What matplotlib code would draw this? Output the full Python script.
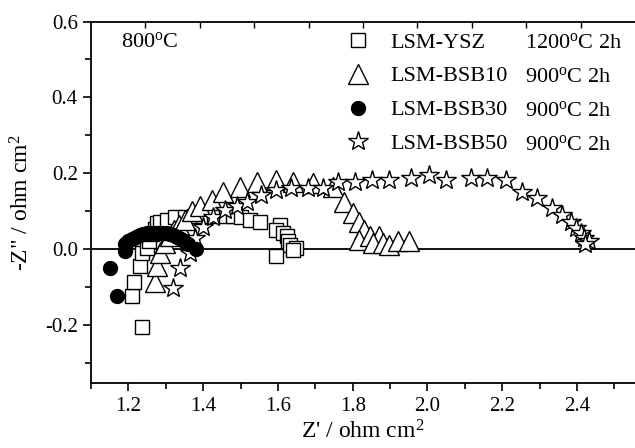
import numpy as np
import matplotlib
matplotlib.use('Agg')
import matplotlib.pyplot as plt

plt.rcParams['font.family'] = ['Liberation Serif', 'DejaVu Serif']
plt.rcParams['mathtext.fontset'] = 'custom'
plt.rcParams['mathtext.rm'] = 'Liberation Serif'
plt.rcParams['mathtext.it'] = 'Liberation Serif:italic'

# LSM-YSZ 1200C 2h (open squares)
ysz_x = [1.236, 1.209, 1.214, 1.231, 1.236, 1.249, 1.255, 1.262, 1.270, 1.276, 1.285, 1.302,
         1.325, 1.351, 1.375, 1.40, 1.43, 1.46, 1.48, 1.502, 1.525, 1.551, 1.605, 1.596,
         1.614, 1.623, 1.627, 1.632, 1.649, 1.64, 1.596]
ysz_y = [-0.205, -0.122, -0.085, -0.045, -0.01, 0.003, 0.022, 0.040, 0.055, 0.069, 0.073, 0.078,
         0.086, 0.086, 0.088, 0.089, 0.089, 0.088, 0.087, 0.086, 0.078, 0.073, 0.064, 0.051,
         0.043, 0.034, 0.021, 0.012, 0.003, -0.001, -0.017]

# LSM-BSB10 900C 2h (open triangles)
b10_x = [1.271, 1.276, 1.285, 1.298, 1.31, 1.322, 1.336, 1.351, 1.37, 1.391, 1.423, 1.454,
         1.498, 1.543, 1.596, 1.64, 1.694, 1.747, 1.778, 1.80, 1.818, 1.831, 1.818, 1.845,
         1.871, 1.853, 1.88, 1.898, 1.92, 1.951]
b10_y = [-0.085, -0.045, -0.01, 0.016, 0.035, 0.05, 0.065, 0.078, 0.10, 0.113, 0.13, 0.152,
         0.165, 0.178, 0.183, 0.178, 0.176, 0.165, 0.126, 0.095, 0.073, 0.051, 0.025, 0.034,
         0.034, 0.016, 0.016, 0.012, 0.021, 0.021]

# LSM-BSB30 900C 2h (filled circles)
b30_x = [1.151, 1.169, 1.19, 1.192, 1.20, 1.21, 1.22, 1.23, 1.24, 1.25, 1.26, 1.27, 1.28,
         1.29, 1.30, 1.31, 1.32, 1.33, 1.34, 1.35, 1.36, 1.38]
b30_y = [-0.048, -0.122, -0.005, 0.015, 0.022, 0.028, 0.033, 0.037, 0.040, 0.042, 0.043,
         0.044, 0.044, 0.043, 0.042, 0.040, 0.037, 0.033, 0.028, 0.022, 0.015, 0.0]

# LSM-BSB50 900C 2h (open stars)
b50_x = [1.32, 1.338, 1.365, 1.378, 1.40, 1.427, 1.458, 1.49, 1.516, 1.556, 1.596, 1.636,
         1.68, 1.72, 1.76, 1.805, 1.852, 1.896, 1.956, 2.005, 2.049, 2.116, 2.16, 2.209,
         2.254, 2.294, 2.334, 2.36, 2.383, 2.396, 2.41, 2.418, 2.432, 2.42]
b50_y = [-0.102, -0.05, -0.01, 0.03, 0.06, 0.086, 0.104, 0.113, 0.126, 0.143, 0.157, 0.161,
         0.161, 0.161, 0.178, 0.178, 0.183, 0.183, 0.187, 0.196, 0.183, 0.187, 0.187, 0.183,
         0.152, 0.135, 0.108, 0.091, 0.073, 0.056, 0.043, 0.029, 0.021, 0.015]

names = ['LSM-YSZ', 'LSM-BSB10', 'LSM-BSB30', 'LSM-BSB50']
conds = ['1200$^{\\rm o}$C 2h', '900$^{\\rm o}$C 2h', '900$^{\\rm o}$C 2h', '900$^{\\rm o}$C 2h']

fig = plt.figure(figsize=(6.35, 4.48), dpi=100)
ax = fig.add_axes([0.1433, 0.144, 0.8567, 0.808])

ax.axhline(0, color='black', lw=1.3, zorder=1)
ax.plot(ysz_x, ysz_y, 's', ms=10, mfc='white', mec='black', mew=1.0, label=names[0], zorder=2)
ax.plot(b10_x, b10_y, '^', ms=14, mfc='white', mec='black', mew=1.0, label=names[1], zorder=3)
ax.plot(b30_x, b30_y, 'o', ms=10, mfc='black', mec='black', mew=1.0, label=names[2], zorder=5)
ax.plot(b50_x, b50_y, '*', ms=15, mfc='white', mec='black', mew=1.0, label=names[3], zorder=4)

ax.set_xlim(1.1, 2.555)
ax.set_ylim(-0.353, 0.6)
ax.spines['right'].set_visible(False)
for s in ['left', 'bottom', 'top']:
    ax.spines[s].set_linewidth(1.3)

ax.set_xticks([1.2, 1.4, 1.6, 1.8, 2.0, 2.2, 2.4])
ax.set_xticks(np.arange(1.1, 2.55, 0.2), minor=True)
ax.set_yticks([-0.2, 0.0, 0.2, 0.4, 0.6])
ax.set_yticks([-0.3, -0.1, 0.1, 0.3, 0.5], minor=True)
ax.set_xticklabels(['1.2', '1.4', '1.6', '1.8', '2.0', '2.2', '2.4'])
ax.set_yticklabels(['-0.2', '0.0', '0.2', '0.4', '0.6'])
ax.tick_params(which='major', direction='out', length=6, width=1.2, labelsize=15)
ax.tick_params(which='minor', direction='out', length=4, width=1.2)

# top axis: 10 divisions, small inward ticks, no labels
ax2 = ax.twiny()
ax2.set_xlim(0, 10)
ax2.set_xticks(range(1, 10))
ax2.tick_params(axis='x', direction='in', length=4, width=1.0, labeltop=False)
for s in ['left', 'bottom', 'right', 'top']:
    ax2.spines[s].set_visible(False)

ax.set_xlabel('Z\' / ohm cm$^2$', fontsize=17, labelpad=3)
ax.set_ylabel('-Z" / ohm cm$^2$', fontsize=17, labelpad=8)

ax.text(0.055, 0.944, '800$^{\\rm o}$C', transform=ax.transAxes, fontsize=16, va='center')

leg = ax.legend(loc='upper left', bbox_to_anchor=(0.466, 0.971), frameon=False, fontsize=16,
                handletextpad=0.87, labelspacing=0.6, borderpad=0, borderaxespad=0,
                handlelength=1.2)
rows_y = [0.940, 0.847, 0.752, 0.660]
for c, yy in zip(conds, rows_y):
    ax.text(0.797, yy, c, transform=ax.transAxes, fontsize=16, va='center')

fig.savefig('out.png', dpi=100)
